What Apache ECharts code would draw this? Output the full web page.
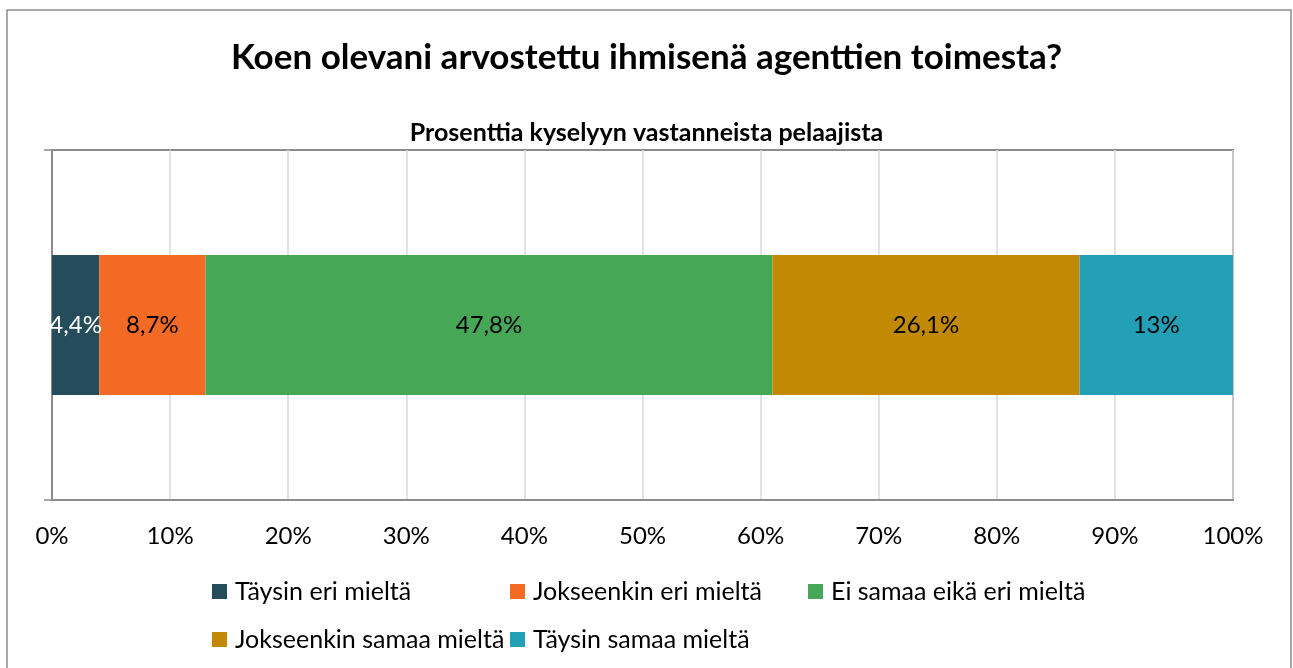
<!DOCTYPE html>
<html><head><meta charset="utf-8">
<script src="https://cdn.jsdelivr.net/npm/echarts@6/dist/echarts.min.js"></script>
<style>html,body{margin:0;padding:0;background:#fff}#c{width:1293px;height:668px}</style>
</head><body><div id="c"></div>
<script>
const categories = ['Vastaukset'];
const seriesNames = ['Täysin eri mieltä','Jokseenkin eri mieltä','Ei samaa eikä eri mieltä','Jokseenkin samaa mieltä','Täysin samaa mieltä'];
const barValues = [4, 9, 48, 26, 13];
const labelTexts = ['4,4%','8,7%','47,8%','26,1%','13%'];
const colors = ['#244c5a','#f26a24','#46a856','#c28a04','#23a0b6'];
const labelColors = ['#ffffff','#000000','#000000','#000000','#000000'];
const xTicks = [0,10,20,30,40,50,60,70,80,90,100];

const FONT = 'Lato';
const chart = echarts.init(document.getElementById('c'));
const legendPos = [[212,579],[510,579],[808,579],[212,627],[510,627]];
chart.setOption({
  animation:false,
  textStyle:{fontFamily:FONT},
  title:[
    {text:'Koen olevani arvostettu ihmisenä agenttien toimesta?',left:'center',top:35,
     textStyle:{fontFamily:FONT,fontWeight:'bold',fontSize:35,color:'#000'}},
    {text:'Prosenttia kyselyyn vastanneista pelaajista',left:'center',top:115,
     textStyle:{fontFamily:FONT,fontWeight:'bold',fontSize:25,color:'#000'}}
  ],
  graphic:[{type:'rect',shape:{x:7,y:10,width:1284,height:680},style:{fill:'none',stroke:'#8c8c8c',lineWidth:1.5},silent:true}],
  legend: seriesNames.map((n,i)=>({data:[n],left:legendPos[i][0],top:legendPos[i][1],padding:0,itemWidth:15,itemHeight:15,icon:'rect',itemGap:6,
    textStyle:{fontFamily:FONT,fontSize:25,color:'#000',padding:[0,0,0,3]}})),
  grid:{left:52,right:60,top:150,bottom:168,show:true,borderColor:'#8c8c8c',borderWidth:2,containLabel:false},
  xAxis:{type:'value',min:0,max:100,interval:10,
    axisLine:{show:true,lineStyle:{color:'#8c8c8c',width:2}},
    axisTick:{show:false},
    splitLine:{show:true,lineStyle:{color:'#d9d9d9',width:1.5}},
    axisLabel:{formatter:v=>xTicks.includes(v)?v+'%':'',fontFamily:FONT,fontSize:24,color:'#000',margin:24}},
  yAxis:{type:'category',data:categories,
    axisLine:{show:true,lineStyle:{color:'#8c8c8c',width:2}},
    axisTick:{show:true,length:8,lineStyle:{color:'#8c8c8c',width:1.5}},
    axisLabel:{show:false},splitLine:{show:false}},
  series: seriesNames.map((n,i)=>({
    name:n,type:'bar',stack:'a',barWidth:'40%',
    itemStyle:{color:colors[i]},
    data:[barValues[i]],
    label:{show:true,position:'inside',formatter:()=>labelTexts[i],fontFamily:FONT,fontSize:24,color:labelColors[i]}
  }))
});
</script></body></html>
